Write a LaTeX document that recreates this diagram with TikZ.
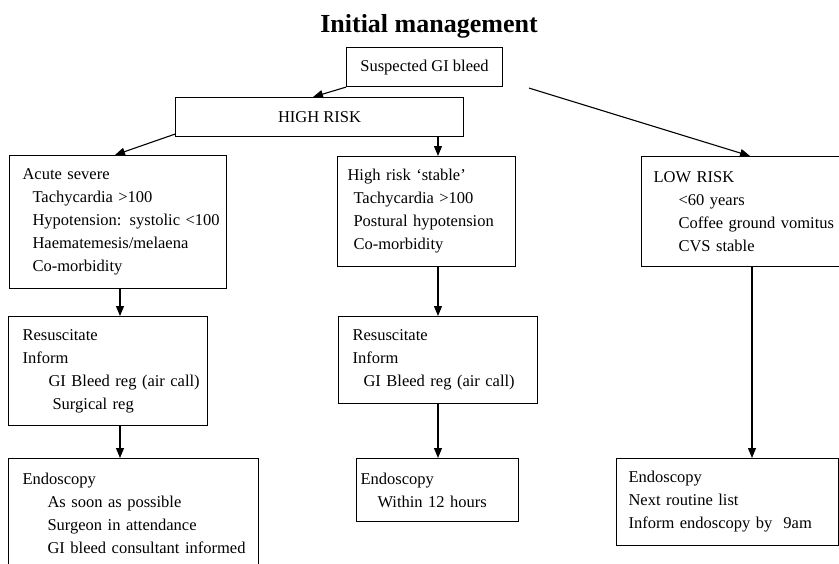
\documentclass[tikz,border=0pt]{standalone}
\usepackage{fontspec}
\setmainfont{Liberation Serif}
\usetikzlibrary{arrows.meta}
\newcommand{\lnx}[2][0pt]{\mbox{\hspace*{#1}#2}}
\begin{document}
\begin{tikzpicture}[x=1pt,y=-1pt,
  box/.style={draw, line width=1.1pt, anchor=north west, inner ysep=0pt,
    font=\fontsize{16.5}{23}\selectfont, align=left},
  cbox/.style={draw, line width=1.1pt, anchor=north west, inner sep=0pt,
    font=\fontsize{16.5}{23}\selectfont, align=center},
  arr/.style={line width=1.1pt, -{Triangle[length=10pt,width=8pt]}},
]
\useasboundingbox (0,0) rectangle (839,563);

\node[anchor=base, font=\fontsize{26}{30}\selectfont\bfseries] (title) at (429,32) {Initial management};

\node[cbox, minimum width=156, minimum height=39] (sus) at (346,47) {Suspected GI bleed};
\node[cbox, minimum width=288, minimum height=39] (high) at (175,97) {HIGH RISK};

\node[box, inner xsep=13, text width=191, minimum height=133] (acute) at (9,155)
  {\lnx{Acute severe}\\ \lnx[10pt]{Tachycardia >100}\\ \lnx[10pt]{Hypotension: systolic <100}\\
   \lnx[10pt]{Haematemesis/melaena}\\ \lnx[10pt]{Co-morbidity}};
\node[box, inner xsep=10, text width=158, minimum height=110] (stable) at (337,156)
  {\lnx{High risk ‘stable’}\\ \lnx[6pt]{Tachycardia >100}\\ \lnx[6pt]{Postural hypotension}\\
   \lnx[6pt]{Co-morbidity}};
\node[box, inner xsep=12, text width=176, minimum height=110] (low) at (641,156)
  {\lnx{LOW RISK}\\ \lnx[25pt]{<60 years}\\ \lnx[25pt]{Coffee ground vomitus}\\
   \lnx[25pt]{CVS stable}};

\node[box, inner xsep=14, text width=171, minimum height=109] (res1) at (8,316)
  {\lnx{Resuscitate}\\ \lnx{Inform}\\ \lnx[26pt]{GI Bleed reg (air call)}\\
   \lnx[30pt]{Surgical reg}};
\node[box, inner xsep=14, text width=171, minimum height=87] (res2) at (338,316)
  {\lnx{Resuscitate}\\ \lnx{Inform}\\ \lnx[11pt]{GI Bleed reg (air call)}};

\node[box, inner xsep=14, text width=222, minimum height=110] (endo1) at (8,458)
  {\lnx{Endoscopy}\\ \lnx[25pt]{As soon as possible}\\ \lnx[25pt]{Surgeon in attendance}\\
   \lnx[25pt]{GI bleed consultant informed}};
\node[box, inner xsep=4, text width=154, minimum height=63] (endo2) at (356,458)
  {\lnx{Endoscopy}\\ \lnx[17pt]{Within 12 hours}};
\node[box, inner xsep=12, text width=198, minimum height=87] (endo3) at (616,458)
  {\lnx{Endoscopy}\\ \lnx{Next routine list}\\ \lnx{Inform endoscopy by\ \ 9am}};

\coordinate (susR) at ([xshift=26pt,yshift=-1pt]sus.south east);

\draw[arr] (sus.south west) -- ([xshift=138pt]high.north west);
\draw[arr] (susR) -- ([xshift=109pt]low.north west);
\draw[arr] ([yshift=3pt]high.south west) -- ([xshift=106pt]acute.north west);
\draw[arr] ([xshift=263pt]high.south west) -- ([xshift=101pt]stable.north west);

\draw[arr] ([xshift=111pt]acute.south west) -- ([xshift=112pt]res1.north west);
\draw[arr] ([xshift=112pt]res1.south west) -- ([xshift=112pt]endo1.north west);
\draw[arr] ([xshift=101pt]stable.south west) -- ([xshift=100pt]res2.north west);
\draw[arr] ([xshift=100pt]res2.south west) -- ([xshift=82pt]endo2.north west);
\draw[arr] ([xshift=111pt]low.south west) -- ([xshift=136pt]endo3.north west);
\end{tikzpicture}
\end{document}
